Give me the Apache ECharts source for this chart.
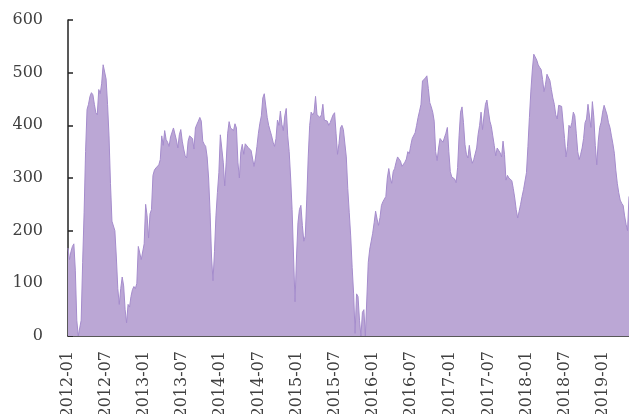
<!DOCTYPE html>
<html>
<head>
<meta charset="utf-8">
<script src="https://cdn.jsdelivr.net/npm/echarts@6/dist/echarts.min.js"></script>
<style>
  html, body { margin: 0; padding: 0; background: #ffffff; }
  #chart { width: 629px; height: 414px; }
</style>
</head>
<body>
<div id="chart"></div>
<script>
// Weekly series, first week ending 2012-01-06
const startDate = Date.UTC(2012, 0, 6);

const values2012 = [
  167,145,160,170,175,125,30,0,0,30,
  140,235,350,430,440,455,462,458,440,424,
  420,468,460,480,515,512,488,440,380,290,
  218,216,200,150,90,60,90,112,95,50,
  25,60,55,75,88,94,90,100,170,168,
  145,142
];
const values2013 = [
  175,250,228,186,232,240,305,315,
  319,319,325,335,380,362,390,373,368,360,
  378,375,395,398,372,357,382,392,370,355,
  342,338,370,380,377,375,355,395,402,408,
  415,408,370,364,360,340,300,235,150,105,
  160,228
];
const values2014 = [
  272,310,382,380,330,285,330,385,
  407,395,398,390,403,395,330,300,350,364,
  345,365,368,358,358,352,355,322,338,360,
  385,404,418,452,460,462,415,400,390,380,
  368,360,375,410,400,427,402,390,418,432,
  380,350
];
const values2015 = [
  300,240,150,65,150,215,240,248,
  210,180,190,260,340,400,425,420,425,455,
  420,420,415,420,440,410,410,408,400,405,
  413,420,424,385,345,365,395,400,392,389,
  340,280,235,190,130,80,5,80,75,30,
  0,45
];
const values2016 = [
  50,0,0,140,165,180,195,215,
  237,222,210,225,248,255,258,265,300,318,
  300,290,312,318,330,340,340,332,322,320,
  330,336,350,346,362,375,378,386,400,415,
  427,440,484,486,490,494,470,443,435,425,
  408,350,333
];
const values2017 = [
  357,375,373,368,370,385,396,
  350,312,302,300,298,291,320,380,425,435,
  405,364,345,338,362,340,328,335,338,357,
  383,400,425,392,418,440,448,427,408,398,
  380,362,342,357,358,348,340,370,345,296,
  305,300
];
const values2018 = [
  300,295,280,262,240,224,237,250,
  265,278,280,310,360,415,465,505,535,532,
  524,515,510,506,487,464,478,497,500,485,
  468,452,440,420,412,438,440,436,434,375,
  340,360,400,395,405,425,418,385,350,335,
  345,357
];
const values2019 = [
  375,405,412,440,440,396,445,415,
  362,325,370,396,406,425,438,440,420,405,
  396,380,365,347,315,290,272,258,252,248,
  228,212,200,265
];

const values = [].concat(values2012, values2013, values2014, values2015,
                         values2016, values2017, values2018, values2019);

// Week-ending dates for the category axis
const weeks = values.map((_, i) => new Date(startDate + i * 7 * 86400000));
const categories = weeks.map(d =>
  d.getUTCFullYear() + '-' + String(d.getUTCMonth() + 1).padStart(2, '0'));

// Label only the first week of January and July
const isHalfYearStart = i => {
  const d = weeks[i];
  if (!d) return false;
  return d.getUTCDate() <= 7 && (d.getUTCMonth() === 0 || d.getUTCMonth() === 6);
};

const yTicks = [0, 100, 200, 300, 400, 500, 600];

const labelFont = {
  fontFamily: '"DejaVu Serif", serif',
  fontSize: 16,
  color: '#404040'
};

const chart = echarts.init(document.getElementById('chart'), null, { renderer: 'canvas' });
chart.setOption({
  animation: false,
  backgroundColor: '#ffffff',
  grid: {
    left: 68, right: 0, top: 20, bottom: 78,
    containLabel: false,
    outerBoundsMode: 'none'
  },
  xAxis: {
    type: 'category',
    data: categories,
    boundaryGap: false,
    axisLine: { show: true, lineStyle: { color: '#222222', width: 1.5 } },
    axisTick: { show: false, interval: 0 },
    axisLabel: Object.assign({
      rotate: 90,
      margin: 15,
      interval: (idx) => isHalfYearStart(idx)
    }, labelFont),
    splitLine: { show: false }
  },
  yAxis: {
    type: 'value',
    min: yTicks[0],
    max: yTicks[yTicks.length - 1],
    interval: 100,
    axisLine: { show: true, lineStyle: { color: '#222222', width: 1.5 } },
    axisTick: { show: true, inside: true, length: 5, lineStyle: { color: '#222222', width: 1.5 } },
    axisLabel: Object.assign({ margin: 25 }, labelFont),
    splitLine: { show: false }
  },
  series: [{
    type: 'line',
    data: values,
    showSymbol: false,
    symbol: 'none',
    lineStyle: { color: '#a58ccc', width: 1 },
    areaStyle: { color: '#bba7d5', opacity: 1 }
  }]
});
</script>
</body>
</html>
